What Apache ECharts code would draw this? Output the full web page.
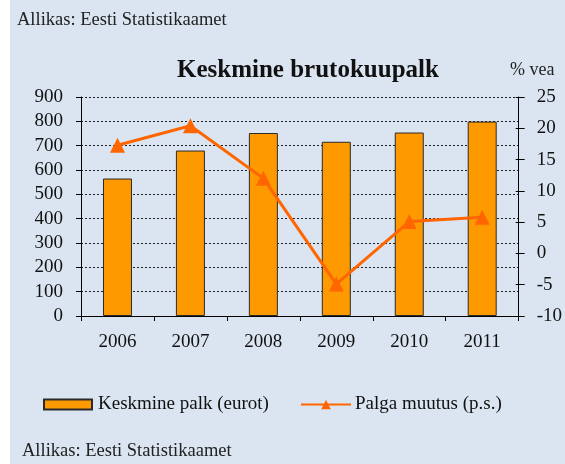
<!DOCTYPE html>
<html><head><meta charset="utf-8">
<script src="https://cdn.jsdelivr.net/npm/echarts@6/dist/echarts.min.js"></script>
<style>html,body{margin:0;padding:0;background:#fff}#c{position:absolute;left:10px;top:0;width:555px;height:464px;background:#dbe5f1}</style>
</head><body><div id="c"></div>
<script>
const categories = ['2006','2007','2008','2009','2010','2011'];
const palk = [565, 680, 752, 716, 754, 799];
const muutus = [17.3, 20.4, 12.0, -4.9, 5.1, 5.8];
const leftTicks = {min:0, max:900, interval:100};
const rightTicks = {min:-10, max:25, interval:5};
const titleText = 'Keskmine brutokuupalk';
const sourceText = 'Allikas: Eesti Statistikaamet';
const rightAxisName = '% vea';
const seriesNames = ['Keskmine palk (eurot)', 'Palga muutus (p.s.)'];

const F = 'Liberation Serif';
const chart = echarts.init(document.getElementById('c'));
const txt = {fontFamily:F, fontSize:19, color:'#111'};
chart.setOption({
  animation:false,
  backgroundColor:'#dbe5f1',
  textStyle:{fontFamily:F},
  grid:{left:71, right:36, top:97, bottom:148},
  title:{text:titleText, left:167, top:58, textStyle:{fontFamily:F, fontWeight:'bold', fontSize:25, color:'#111'}, padding:0},
  graphic:[
    {type:'text', left:7, top:11, style:{text:sourceText, font:'18.5px '+F, fill:'#222'}},
    {type:'text', left:12, top:442, style:{text:sourceText, font:'18.5px '+F, fill:'#222'}},
    {type:'text', left:500, top:61, style:{text:rightAxisName, font:'18px '+F, fill:'#222'}}
  ],
  legend:[
    {data:[{name:seriesNames[0], icon:'rect'}], left:33, top:395, itemWidth:48, itemHeight:10, padding:0, textStyle:Object.assign({}, txt, {padding:[0,0,0,1]})},
    {data:[seriesNames[1]], left:290, top:395, itemWidth:50, itemHeight:12, padding:0, textStyle:Object.assign({}, txt, {padding:[0,0,0,-1]})}
  ],
  xAxis:{type:'category', data:categories, boundaryGap:true,
    axisLine:{lineStyle:{color:'#000', width:1}},
    axisTick:{show:true, length:5, inside:false, lineStyle:{color:'#000'}},
    axisLabel:Object.assign({}, txt, {margin:17})},
  yAxis:[
    {type:'value', position:'left', min:leftTicks.min, max:leftTicks.max, interval:leftTicks.interval,
     axisLine:{show:true, lineStyle:{color:'#000'}},
     axisTick:{show:true, length:5, lineStyle:{color:'#000'}},
     axisLabel:Object.assign({}, txt, {margin:18}),
     splitLine:{show:true, lineStyle:{color:'#222', type:[2,2], width:1}}},
    {type:'value', position:'right', min:rightTicks.min, max:rightTicks.max, interval:rightTicks.interval,
     axisLine:{show:true, lineStyle:{color:'#000'}},
     axisTick:{show:true, length:6, lineStyle:{color:'#000'}},
     axisLabel:Object.assign({}, txt, {margin:18}),
     splitLine:{show:false}},
    {type:'value', position:'right', min:rightTicks.min, max:rightTicks.max, interval:rightTicks.interval,
     axisLine:{show:false},
     axisTick:{show:true, inside:true, length:3, lineStyle:{color:'#000'}},
     axisLabel:{show:false}, splitLine:{show:false}}
  ],
  series:[
    {name:seriesNames[0], type:'bar', data:palk, yAxisIndex:0, barWidth:29,
     itemStyle:{color:'#ff9900', borderColor:'#2a2a2a', borderWidth:1}},
    {name:seriesNames[1], type:'line', data:muutus, yAxisIndex:1, symbol:'triangle', symbolSize:15,
     lineStyle:{color:'#ff6600', width:3}, itemStyle:{color:'#ff6600'}}
  ]
});
</script></body></html>
